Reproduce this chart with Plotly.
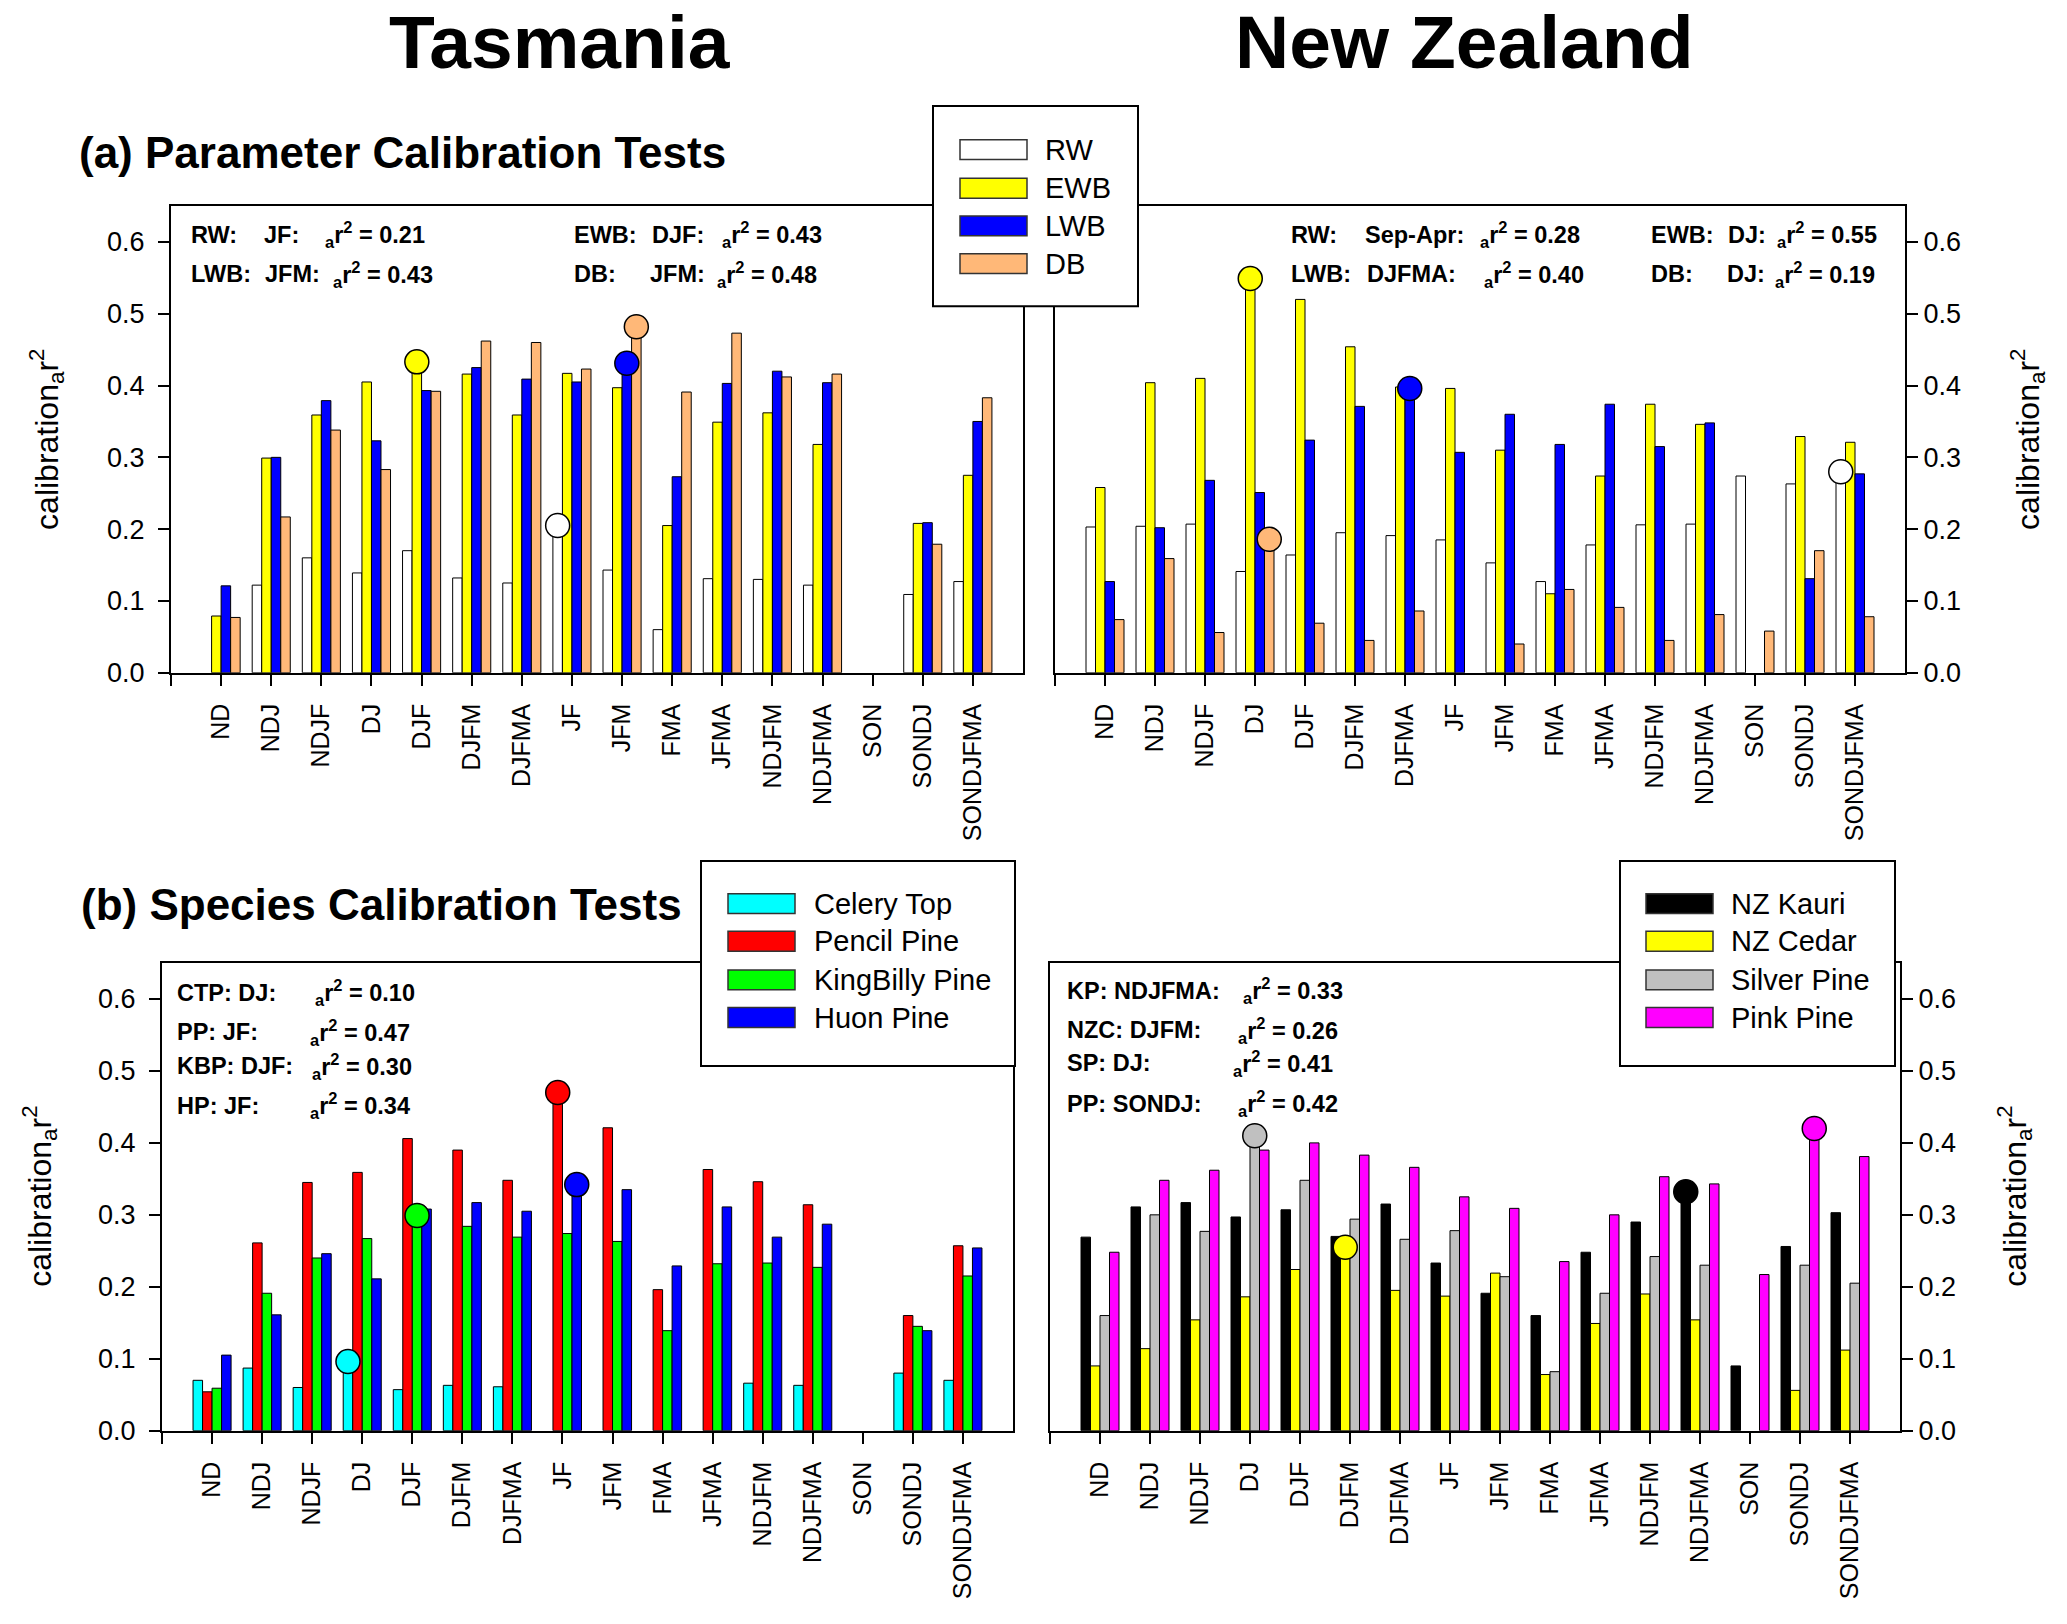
import plotly.graph_objects as go

# season windows on the x axis
cats = ["ND", "NDJ", "NDJF", "DJ", "DJF", "DJFM", "DJFMA", "JF", "JFM", "FMA",
        "JFMA", "NDJFM", "NDJFMA", "SON", "SONDJ", "SONDJFMA"]

# (a) parameter tests, Tasmania
tas_rw = [None, 0.122, 0.160, 0.139, 0.170, 0.132, 0.125, 0.205, 0.143, 0.060, 0.131, 0.130, 0.122, None, 0.109, 0.127]
tas_ewb = [0.079, 0.299, 0.359, 0.405, 0.433, 0.416, 0.359, 0.417, 0.397, 0.205, 0.349, 0.362, 0.318, None, 0.208, 0.275]
tas_lwb = [0.121, 0.300, 0.379, 0.323, 0.393, 0.425, 0.409, 0.405, 0.431, 0.273, 0.403, 0.420, 0.404, None, 0.209, 0.350]
tas_db = [0.077, 0.217, 0.338, 0.283, 0.392, 0.462, 0.460, 0.423, 0.482, 0.391, 0.473, 0.412, 0.416, None, 0.179, 0.383]

# (a) parameter tests, New Zealand
nz_rw = [0.203, 0.204, 0.207, 0.141, 0.164, 0.195, 0.191, 0.185, 0.153, 0.127, 0.178, 0.206, 0.207, 0.274, 0.263, 0.280]
nz_ewb = [0.258, 0.404, 0.410, 0.549, 0.520, 0.454, 0.398, 0.396, 0.310, 0.110, 0.274, 0.374, 0.346, None, 0.329, 0.321]
nz_lwb = [0.127, 0.202, 0.268, 0.251, 0.324, 0.371, 0.396, 0.307, 0.360, 0.318, 0.374, 0.315, 0.348, None, 0.131, 0.277]
nz_db = [0.074, 0.159, 0.056, 0.186, 0.069, 0.045, 0.086, None, 0.040, 0.116, 0.091, 0.045, 0.081, 0.058, 0.170, 0.078]

# (b) species tests, Tasmania
tas_ctp = [0.070, 0.087, 0.060, 0.096, 0.057, 0.063, 0.061, None, None, None, None, 0.066, 0.063, None, 0.080, 0.070]
tas_pp = [0.054, 0.261, 0.345, 0.359, 0.406, 0.390, 0.348, 0.470, 0.421, 0.196, 0.363, 0.346, 0.314, None, 0.160, 0.257]
tas_kbp = [0.059, 0.191, 0.240, 0.267, 0.299, 0.284, 0.269, 0.274, 0.263, 0.139, 0.232, 0.233, 0.227, None, 0.145, 0.215]
tas_hp = [0.105, 0.161, 0.246, 0.211, 0.308, 0.317, 0.305, 0.342, 0.335, 0.229, 0.311, 0.269, 0.287, None, 0.139, 0.254]

# (b) species tests, New Zealand
nz_kp = [0.269, 0.311, 0.317, 0.297, 0.307, 0.270, 0.315, 0.233, 0.191, 0.160, 0.248, 0.290, 0.332, 0.090, 0.256, 0.303]
nz_nzc = [0.090, 0.114, 0.154, 0.186, 0.224, 0.255, 0.195, 0.187, 0.219, 0.078, 0.149, 0.190, 0.154, None, 0.056, 0.112]
nz_sp = [0.160, 0.300, 0.277, 0.410, 0.348, 0.294, 0.266, 0.278, 0.214, 0.082, 0.191, 0.242, 0.230, None, 0.230, 0.205]
nz_pk = [0.248, 0.348, 0.362, 0.390, 0.400, 0.383, 0.366, 0.325, 0.309, 0.235, 0.300, 0.353, 0.343, 0.217, 0.420, 0.381]

# best result per series: (series index, category)
tas_a_best = [(1, "DJF"), (0, "JF"), (2, "JFM"), (3, "JFM")]
nz_a_best = [(1, "DJ"), (3, "DJ"), (2, "DJFMA"), (0, "SONDJFMA")]
tas_b_best = [(0, "DJ"), (2, "DJF"), (1, "JF"), (3, "JF")]
nz_b_best = [(2, "DJ"), (1, "DJFM"), (0, "NDJFMA"), (3, "SONDJ")]

param_names = ["RW", "EWB", "LWB", "DB"]
param_colors = ["#FFFFFF", "#FFFF00", "#0000FF", "#FFB878"]
tas_names = ["Celery Top", "Pencil Pine", "KingBilly Pine", "Huon Pine"]
tas_colors = ["#00FFFF", "#FF0000", "#00FF00", "#0000FF"]
nz_names = ["NZ Kauri", "NZ Cedar", "Silver Pine", "Pink Pine"]
nz_colors = ["#000000", "#FFFF00", "#C0C0C0", "#FF00FF"]

W, H = 2067, 1624
FONT = "Arial, 'Liberation Sans', sans-serif"
BARGAP = 0.24
R2 = "<sub>a</sub>r<sup>2</sup>"


def px(x):
    return x / W


def py(y):
    return 1 - y / H


fig = go.Figure()

panels = [
    ("x", "y", [tas_rw, tas_ewb, tas_lwb, tas_db], param_colors, tas_a_best),
    ("x2", "y2", [nz_rw, nz_ewb, nz_lwb, nz_db], param_colors, nz_a_best),
    ("x3", "y3", [tas_ctp, tas_pp, tas_kbp, tas_hp], tas_colors, tas_b_best),
    ("x4", "y4", [nz_kp, nz_nzc, nz_sp, nz_pk], nz_colors, nz_b_best),
]

pos = list(range(len(cats)))
bw = (1 - BARGAP) / 4
for xa, ya, series, colors, best in panels:
    for vals, col in zip(series, colors):
        fig.add_trace(go.Bar(x=pos, y=vals, marker=dict(color=col, line=dict(color="black", width=1)),
                             xaxis=xa, yaxis=ya, showlegend=False, hoverinfo="skip"))
    for j, cat in best:
        i = cats.index(cat)
        fig.add_trace(go.Scatter(
            x=[i + (j - 1.5) * bw], y=[series[j][i]], mode="markers",
            marker=dict(size=24, color=colors[j], line=dict(color="black", width=1.5)),
            xaxis=xa, yaxis=ya, showlegend=False, hoverinfo="skip"))

# axes
doms = {
    "": ([171, 1023], [208, 679], "left"),
    "2": ([1055, 1905], [208, 679], "right"),
    "3": ([162, 1013], [972, 1444], "left"),
    "4": ([1050, 1900], [972, 1444], "right"),
}
layout_axes = {}
for k, (xd, yd, side) in doms.items():
    layout_axes["xaxis" + k] = dict(
        domain=[px(xd[0]), px(xd[1])], anchor="y" + k, range=[-1, 16],
        tickvals=list(range(-1, 16)), ticktext=[""] + cats, tickangle=-90,
        ticks="outside", ticklen=11, tickwidth=1.5, tickcolor="black",
        showline=True, mirror=True, linecolor="black", linewidth=2,
        showgrid=False, zeroline=False, ticklabelstandoff=8,
        tickfont=dict(family=FONT, size=25, color="black"))
    layout_axes["yaxis" + k] = dict(
        domain=[py(yd[1]), py(yd[0])], anchor="x" + k, range=[0, 0.65], side=side,
        tickvals=[0, 0.1, 0.2, 0.3, 0.4, 0.5, 0.6], tickformat=".1f",
        ticks="outside", ticklen=11, tickwidth=1.5, tickcolor="black",
        showline=True, mirror=True, linecolor="black", linewidth=2,
        showgrid=False, zeroline=False, ticklabelstandoff=8 if side == "left" else 0,
        tickfont=dict(family=FONT, size=27, color="black"))

annotations = []


def text(x, y, s, size, bold=False, anchor="left", angle=0):
    annotations.append(dict(
        x=px(x), y=py(y), xref="paper", yref="paper", text=("<b>%s</b>" % s) if bold else s,
        showarrow=False, xanchor=anchor, yanchor="middle", textangle=angle,
        font=dict(family=FONT, size=size, color="black")))


text(560, 42, "Tasmania", 75, bold=True, anchor="center")
text(1464, 42, "New Zealand", 75, bold=True, anchor="center")
text(77, 154, "(a) Parameter Calibration Tests", 44, bold=True)
text(79, 913, "(b) Species Calibration Tests", 44, bold=True)

ytitle = "calibration" + R2
text(47, 444, ytitle, 32, anchor="center", angle=-90)
text(2028, 444, ytitle, 32, anchor="center", angle=-90)
text(40, 1208, ytitle, 32, anchor="center", angle=-90)
text(2015, 1208, ytitle, 32, anchor="center", angle=-90)

# statistics written in the panels
stats = [
    (237, [("RW:", 189), ("JF:", 262), (R2 + " = 0.21", 323), ("EWB:", 572), ("DJF:", 650), (R2 + " = 0.43", 720)]),
    (277, [("LWB:", 189), ("JFM:", 263), (R2 + " = 0.43", 331), ("DB:", 572), ("JFM:", 648), (R2 + " = 0.48", 715)]),
    (237, [("RW:", 1289), ("Sep-Apr:", 1363), (R2 + " = 0.28", 1478), ("EWB:", 1649), ("DJ:", 1726), (R2 + " = 0.55", 1775)]),
    (277, [("LWB:", 1289), ("DJFMA:", 1365), (R2 + " = 0.40", 1482), ("DB:", 1649), ("DJ:", 1725), (R2 + " = 0.19", 1773)]),
    (1002, [("CTP: DJ:", 175), (R2 + " = 0.10", 313)]),
    (1042, [("PP: JF:", 175), (R2 + " = 0.47", 308)]),
    (1076, [("KBP: DJF:", 175), (R2 + " = 0.30", 310)]),
    (1116, [("HP: JF:", 175), (R2 + " = 0.34", 308)]),
    (1000, [("KP: NDJFMA:", 1065), (R2 + " = 0.33", 1241)]),
    (1040, [("NZC: DJFM:", 1065), (R2 + " = 0.26", 1236)]),
    (1073, [("SP: DJ:", 1065), (R2 + " = 0.41", 1231)]),
    (1114, [("PP: SONDJ:", 1065), (R2 + " = 0.42", 1236)]),
]
for y, parts in stats:
    for s, x in parts:
        text(x, y, s, 23.5, bold=True)

# legend boxes
shapes = []
legends = [
    ((933, 107, 1138, 309), 960, 1043, [151, 190, 228, 266], param_names, param_colors),
    ((701, 869, 1015, 1076), 728, 812, [912, 950, 989, 1027], tas_names, tas_colors),
    ((1620, 869, 1895, 1076), 1646, 1729, [912, 950, 989, 1027], nz_names, nz_colors),
]
for (x0, y0, x1, y1), sx, tx, rows, names, colors in legends:
    shapes.append(dict(type="rect", xref="paper", yref="paper", x0=px(x0), x1=px(x1), y0=py(y1), y1=py(y0),
                       fillcolor="white", line=dict(color="black", width=2), layer="above"))
    for yc, name, col in zip(rows, names, colors):
        shapes.append(dict(type="rect", xref="paper", yref="paper", x0=px(sx), x1=px(sx + 67),
                           y0=py(yc + 10), y1=py(yc - 10), fillcolor=col,
                           line=dict(color="#333333", width=1.5), layer="above"))
        text(tx, yc, name, 29)

fig.update_layout(
    width=W, height=H, margin=dict(l=0, r=0, t=0, b=0),
    paper_bgcolor="white", plot_bgcolor="white",
    barmode="group", bargap=BARGAP, bargroupgap=0, showlegend=False,
    annotations=annotations, shapes=shapes, **layout_axes)

fig.write_html("out.html", config={"displayModeBar": False},
               post_script="document.body.style.margin='0';")
